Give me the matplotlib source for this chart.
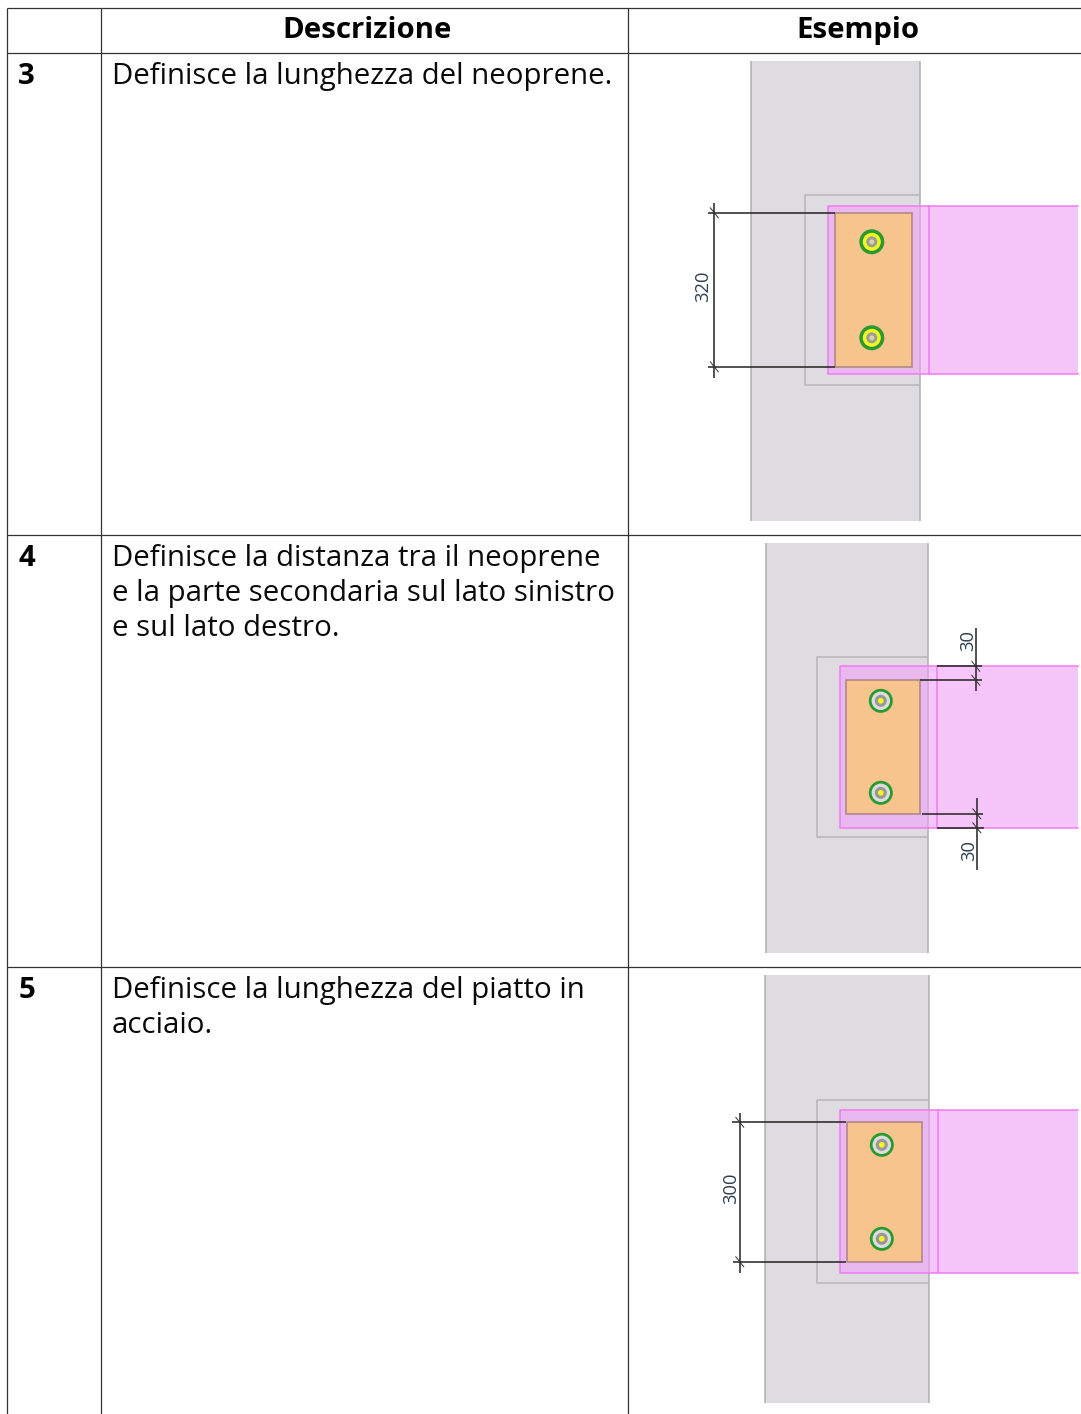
import matplotlib
matplotlib.use("Agg")
from matplotlib import pyplot as plt
from matplotlib.patches import Rectangle, Circle

plt.rcParams['font.family'] = ['Open Sans', 'DejaVu Sans']

WIDTH, HEIGHT = 1081, 1414

# table content
headers = ["Descrizione", "Esempio"]
row_numbers = ["3", "4", "5"]
descriptions = [
    ["Definisce la lunghezza del neoprene."],
    ["Definisce la distanza tra il neoprene",
     "e la parte secondaria sul lato sinistro",
     "e sul lato destro."],
    ["Definisce la lunghezza del piatto in", "acciaio."],
]
col_lines = [7.5, 101, 628]
row_lines = [8, 53, 535.5, 967.5]
text_baselines = [84.6, 566.6, 998.6]

# drawing measures, one entry per row: (left, right, top, bottom)
column_box = [(751.5, 920.5, 61, 521), (766.5, 928, 543, 953), (765.5, 929.5, 975, 1403)]
plate_box = [(805, 920.5, 195.5, 385), (817, 928, 657.5, 837), (817.5, 929, 1100.5, 1283.5)]
beam_box = [(828.5, 1078, 206.5, 374), (840, 1078, 666.5, 828), (840.5, 1078, 1110.5, 1273)]
beam_end = [929.5, 937, 938]
neoprene_box = [(835, 912.5, 213, 367), (846.5, 920, 680.5, 814), (847, 922, 1122.5, 1262)]
bolt_x = [872, 881, 882]
bolt_y = [(242, 338), (701, 793), (1145, 1239)]
bolt_r = [12.5, 12, 12]
bolt_rings = [
    ["#2a9a30", "#f5f520", "#9c9c98", "#d8d8a0"],
    ["#2a9a30", "#dcdcdc", "#989898", "#f5f520"],
    ["#2a9a30", "#dcdcdc", "#989898", "#f5f520"],
]
ring_sizes = [
    [1.0, 0.72, 0.44, 0.2],
    [1.0, 0.77, 0.5, 0.24],
    [1.0, 0.77, 0.5, 0.24],
]

# dimension lines: (x of vertical, y top, y bottom, [(y, x from, x to), ...], label, label x, label y)
dimensions = [
    (714.5, 203, 378, [(213, 708, 835), (367, 708, 835)], "320", 703, 286),
    (976, 628, 691, [(666.5, 937, 982), (680.5, 920, 982)], "30", 968, 641),
    (977, 798, 870, [(814, 922, 983), (828, 937, 984)], "30", 969, 851),
    (740, 1113, 1273, [(1122.5, 732, 846), (1262, 733, 846)], "300", 731, 1188),
]

fig = plt.figure(figsize=(WIDTH / 100, HEIGHT / 100), dpi=100)
ax = fig.add_axes([0, 0, 1, 1])
ax.set_xlim(0.2, WIDTH + 0.2)
ax.set_ylim(HEIGHT + 0.2, 0.2)
ax.axis('off')


def box(bounds, **kwargs):
    left, right, top, bottom = bounds
    ax.add_patch(Rectangle((left, top), right - left, bottom - top, **kwargs))


# grid of the table
for y in row_lines:
    ax.plot([col_lines[0], WIDTH + 1], [y, y], color='#333333', lw=0.9, solid_capstyle='butt')
for x in col_lines:
    ax.plot([x, x], [row_lines[0], HEIGHT + 1], color='#333333', lw=0.9, solid_capstyle='butt')

# header and text
ax.text(367.3, 38.6, headers[0], fontsize=21.2, fontweight='bold', ha='center', va='baseline', color='black')
ax.text(858.3, 38.6, headers[1], fontsize=21.2, fontweight='bold', ha='center', va='baseline', color='black')
for number, lines, base in zip(row_numbers, descriptions, text_baselines):
    ax.text(18.3, base, number, fontsize=21.2, fontweight='bold', va='baseline', color='black')
    for i, line in enumerate(lines):
        ax.text(112.3, base + i * 35, line, fontsize=21.17, va='baseline', color='#0a0a0a')

# the three connection sketches
for i in range(3):
    left, right, top, bottom = column_box[i]
    box(column_box[i], facecolor='#dedce0', edgecolor='none', zorder=2)
    for x in (left, right):
        ax.plot([x, x], [top, bottom], color='#b0b0b2', lw=1.1, zorder=2.5, solid_capstyle='butt')
    # plate outline has no right line of its own, the column edge closes it
    left, right, top, bottom = plate_box[i]
    ax.plot([right, left, left, right], [top, top, bottom, bottom], color='#b8b6b8', lw=1.1, zorder=3)
    box(neoprene_box[i], facecolor='#f6c48c', edgecolor='none', zorder=4)
    left, right, top, bottom = beam_box[i]
    box(beam_box[i], facecolor=(240 / 255, 160 / 255, 248 / 255, 0.6), edgecolor='none', zorder=3.5)
    ax.plot([right, left, left, right], [top, top, bottom, bottom], color='#f07af5', lw=1.1, zorder=5)
    ax.plot([beam_end[i], beam_end[i]], [top, bottom], color='#f07af5', lw=1.1, zorder=5)
    box(neoprene_box[i], facecolor='none', edgecolor='#ac8484', lw=1.1, zorder=5)
    for y in bolt_y[i]:
        for colour, factor in zip(bolt_rings[i], ring_sizes[i]):
            ax.add_patch(Circle((bolt_x[i], y), bolt_r[i] * factor, facecolor=colour, edgecolor='none', zorder=6))

for x, y_top, y_bottom, witness, label, label_x, label_y in dimensions:
    ax.plot([x, x], [y_top, y_bottom], color='#222222', lw=1.1, zorder=7, solid_capstyle='butt')
    for y, x_from, x_to in witness:
        ax.plot([x_from, x_to], [y, y], color='#222222', lw=1.1, zorder=7, solid_capstyle='butt')
        ax.plot([x - 4, x + 4], [y - 5, y + 5], color='#333333', lw=0.7, zorder=7)
    ax.text(label_x, label_y, label, fontsize=13.2, rotation=90, ha='center', va='center',
            color='#2f4050', zorder=7)

fig.savefig("out.png", dpi=100)
